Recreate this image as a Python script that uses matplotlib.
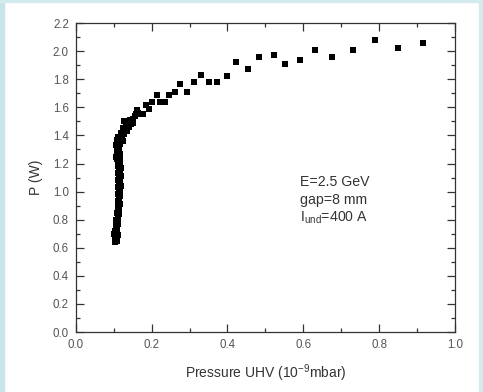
import matplotlib
matplotlib.use("Agg")
import matplotlib.pyplot as plt
from matplotlib.patches import Rectangle
from matplotlib.ticker import MultipleLocator, FormatStrFormatter

plt.rcParams['font.family'] = ['Liberation Sans', 'DejaVu Sans']

# vertical column at low pressure (two overlapping runs)
col_x = [0.104, 0.102, 0.106, 0.101, 0.104, 0.107, 0.105, 0.108, 0.107, 0.110,
         0.109, 0.111, 0.110, 0.112, 0.113, 0.111, 0.113, 0.112, 0.114, 0.112,
         0.113, 0.111, 0.113, 0.110, 0.112, 0.109, 0.107, 0.109, 0.108, 0.106,
         0.110, 0.108]
col_p = [0.64, 0.66, 0.68, 0.70, 0.72, 0.74, 0.76, 0.78, 0.80, 0.82,
         0.85, 0.88, 0.90, 0.93, 0.95, 0.98, 1.00, 1.03, 1.05, 1.08,
         1.10, 1.13, 1.15, 1.18, 1.20, 1.23, 1.25, 1.28, 1.30, 1.33,
         1.35, 1.37]
col2_x = [0.108, 0.110, 0.109, 0.111, 0.112, 0.114, 0.113, 0.116, 0.115, 0.117,
          0.116, 0.118, 0.117, 0.118, 0.116, 0.118, 0.117, 0.116, 0.117, 0.115,
          0.116, 0.114, 0.113, 0.112]
col2_p = [0.65, 0.69, 0.73, 0.77, 0.81, 0.84, 0.87, 0.91, 0.94, 0.97,
          1.01, 1.04, 1.07, 1.11, 1.14, 1.17, 1.21, 1.24, 1.27, 1.31,
          1.34, 1.36, 1.33, 1.29]

# knee of the curve
knee_x = [0.112, 0.118, 0.115, 0.122, 0.120, 0.125, 0.128, 0.130, 0.133, 0.128,
          0.138, 0.140, 0.145, 0.142, 0.148, 0.152, 0.155, 0.158, 0.162, 0.165,
          0.170, 0.176, 0.125, 0.135, 0.150]
knee_p = [1.39, 1.40, 1.37, 1.38, 1.42, 1.45, 1.41, 1.44, 1.48, 1.50,
          1.50, 1.46, 1.48, 1.51, 1.50, 1.52, 1.54, 1.55, 1.58, 1.56,
          1.55, 1.55, 1.36, 1.43, 1.49]

# sparse tail
tail_x = [0.185, 0.194, 0.200, 0.214, 0.222, 0.236, 0.246, 0.261, 0.276, 0.293,
          0.311, 0.331, 0.350, 0.372, 0.398, 0.422, 0.453, 0.483, 0.522, 0.552,
          0.591, 0.631, 0.675, 0.731, 0.789, 0.851, 0.915]
tail_p = [1.62, 1.59, 1.64, 1.69, 1.64, 1.64, 1.69, 1.71, 1.77, 1.71,
          1.78, 1.83, 1.78, 1.78, 1.82, 1.92, 1.87, 1.96, 1.97, 1.91,
          1.94, 2.01, 1.96, 2.01, 2.08, 2.02, 2.06]

pressure = col_x + col2_x + knee_x + tail_x
power = col_p + col2_p + knee_p + tail_p

fig = plt.figure(figsize=(4.83, 3.92), dpi=100)
fig.patch.set_facecolor('white')
# light cyan frame of the slide
fig.patches.append(Rectangle((0, 0), 4/483, 1, transform=fig.transFigure, color='#c9e5ea', zorder=0))
fig.patches.append(Rectangle((479/483, 0), 4/483, 1, transform=fig.transFigure, color='#d3ebee', zorder=0))
fig.patches.append(Rectangle((0, 1 - 2/392), 1, 2/392, transform=fig.transFigure, color='#d3ebee', zorder=0))

ax = fig.add_axes([0.157, 0.153, 0.785, 0.788])
ax.plot(pressure, power, 's', color='black', markersize=4.4, markeredgewidth=0)

ax.set_xlim(0, 1.0)
ax.set_ylim(0, 2.2)
ax.xaxis.set_major_locator(MultipleLocator(0.2))
ax.xaxis.set_minor_locator(MultipleLocator(0.1))
ax.yaxis.set_major_locator(MultipleLocator(0.2))
ax.yaxis.set_minor_locator(MultipleLocator(0.1))
ax.xaxis.set_major_formatter(FormatStrFormatter('%.1f'))
ax.yaxis.set_major_formatter(FormatStrFormatter('%.1f'))
ax.tick_params(which='both', direction='in', top=True, right=True, width=0.9,
               labelsize=8.3, labelcolor='#555555', color='#333333')
ax.tick_params(which='major', length=6, pad=5)
ax.tick_params(which='minor', length=3)
for s in ax.spines.values():
    s.set_linewidth(0.9)
    s.set_color('#333333')

ax.set_xlabel(r'Pressure UHV (10$^{\mathregular{-9}}$mbar)', fontsize=10, color='#333333', labelpad=8)
ax.set_ylabel('P (W)', fontsize=10, color='#333333', labelpad=7)

ax.text(0.59, 1.065, 'E=2.5 GeV', fontsize=10.2, color='#333333', va='center')
ax.text(0.59, 0.94, 'gap=8 mm', fontsize=10.2, color='#333333', va='center')
ax.text(0.59, 0.815, r'I$_{\mathregular{und}}$=400 A', fontsize=10.2, color='#333333', va='center')

plt.savefig('out.png', dpi=100)
